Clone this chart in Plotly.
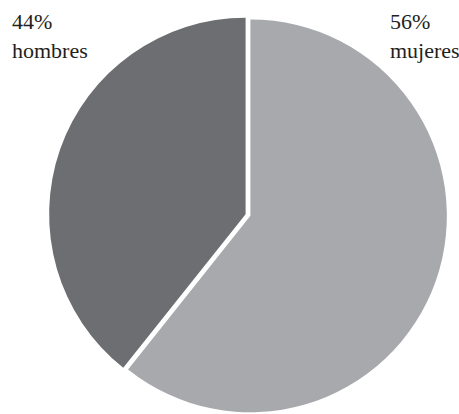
import plotly.graph_objects as go

# Data (listed clockwise from 12 o'clock)
categories = ["mujeres", "hombres"]
label_pcts = ["56%", "44%"]          # printed labels
slice_shares = [60.7, 39.3]          # slice sizes as drawn
slice_colors = ["#a7a9ac", "#6d6e71"]

W, H = 459, 414
cx, cy, R = 248, 215, 199  # pixel centre / outer extent of pie

fig = go.Figure(go.Pie(
    labels=categories,
    values=slice_shares,
    sort=False,
    direction="clockwise",
    rotation=0,
    pull=[0.013, 0.013],
    marker=dict(colors=slice_colors, line=dict(width=0)),
    textinfo="none",
    hoverinfo="label+percent",
    showlegend=False,
    domain=dict(x=[(cx - R) / W, (cx + R) / W],
                y=[(H - cy - R) / H, (H - cy + R) / H]),
))

font = dict(family="Liberation Serif, Times New Roman, serif", size=22, color="#231f20")
label_x = [388, 10]
for name, pct, xp in zip(categories, label_pcts, label_x):
    fig.add_annotation(
        text=f"{pct}<br>{name}", x=xp / W, y=1 - 7 / H,
        xref="paper", yref="paper", xanchor="left", yanchor="top",
        align="left", showarrow=False, font=font,
    )

fig.update_layout(
    width=W, height=H,
    margin=dict(l=0, r=0, t=0, b=0),
    paper_bgcolor="white", plot_bgcolor="white",
)

fig.write_html("out.html")
